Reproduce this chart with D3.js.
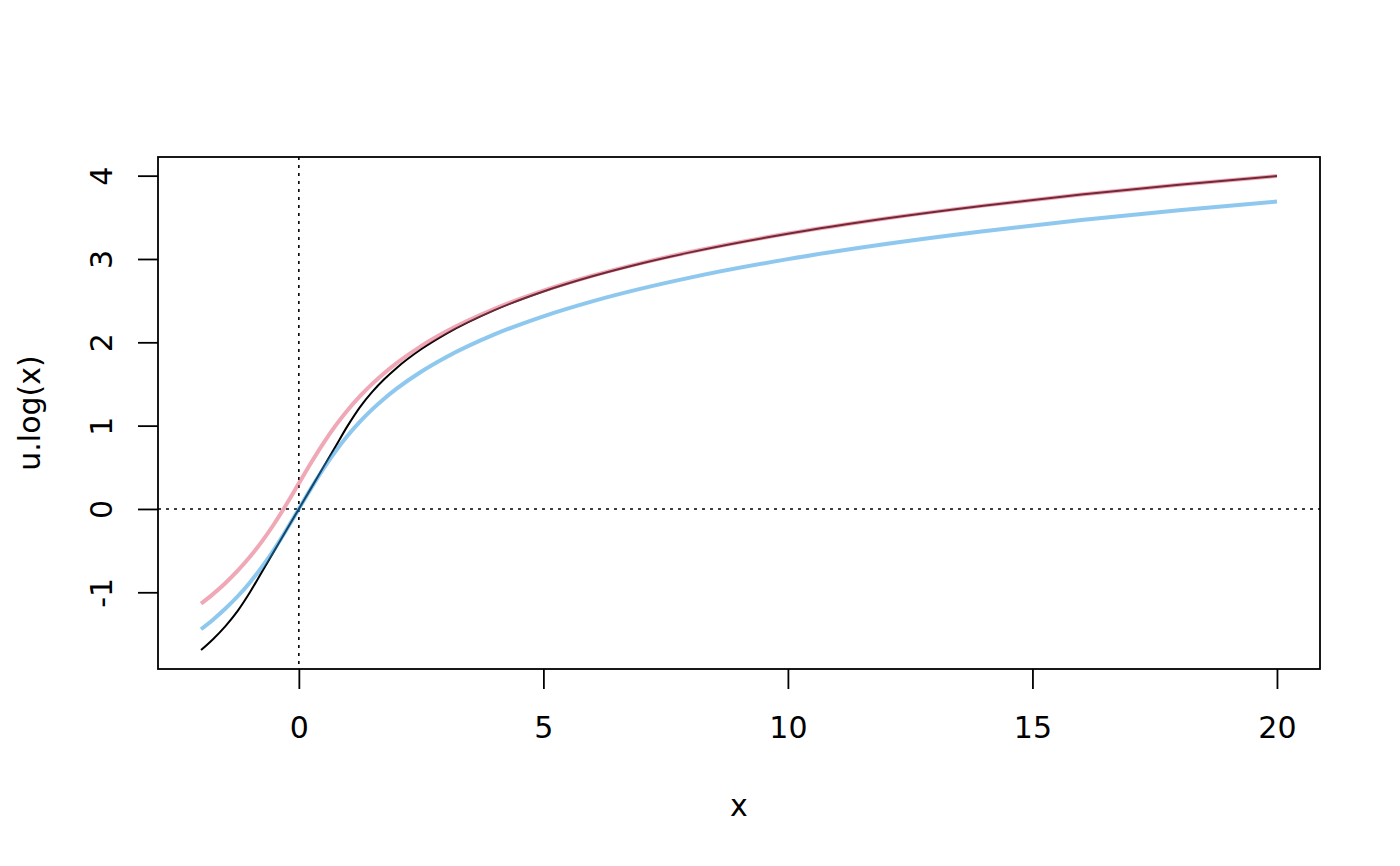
<!DOCTYPE html>
<html>
<head>
<meta charset="utf-8">
<script src="https://cdn.jsdelivr.net/npm/d3@7/dist/d3.min.js"></script>
<style>
  body { margin: 0; background: #fff; }
  svg text { font-family: "DejaVu Sans", sans-serif; fill: #000; }
</style>
</head>
<body>
<script>
// values
var xs      = [-2, -1.75, -1.5, -1.25, -1, -0.75, -0.5, -0.25, 0, 0.25, 0.5, 0.75, 1, 1.25, 1.5, 1.75, 2, 2.5, 3, 4, 5, 6, 7, 8, 10, 12, 14, 16, 18, 20];
var ulog    = [-1.6931, -1.5596, -1.4055, -1.2231, -1, -0.75, -0.5, -0.25, 0, 0.25, 0.5, 0.75, 1, 1.2231, 1.4055, 1.5596, 1.6931, 1.9163, 2.0986, 2.3863, 2.6094, 2.7918, 2.9459, 3.0794, 3.3026, 3.4849, 3.6391, 3.7726, 3.8904, 3.9957];
var pinkVal = [-1.1367, -1.0190, -0.8879, -0.7407, -0.5745, -0.3862, -0.1743, 0.0594, 0.3069, 0.5544, 0.7881, 1.0000, 1.1883, 1.3545, 1.5017, 1.6328, 1.7505, 1.9541, 2.1253, 2.4016, 2.6193, 2.7987, 2.9510, 3.0834, 3.3051, 3.4867, 3.6404, 3.7736, 3.8912, 3.9964];
var blueVal = [-1.4436, -1.3259, -1.1948, -1.0476, -0.8814, -0.6931, -0.4812, -0.2475, 0, 0.2475, 0.4812, 0.6931, 0.8814, 1.0476, 1.1948, 1.3259, 1.4436, 1.6472, 1.8184, 2.0947, 2.3124, 2.4918, 2.6441, 2.7765, 2.9982, 3.1798, 3.3335, 3.4667, 3.5843, 3.6895];
var xTicks = [0, 5, 10, 15, 20];
var yTicks = [-1, 0, 1, 2, 3, 4];

var W = 1400, H = 866;
var plotL = 158, plotR = 1320, plotT = 157, plotB = 669;
var fontSize = "30px";

var svg = d3.select("body").append("svg")
    .attr("width", W)
    .attr("height", H);

// R style: 4% padding around the data range
function padded(ext) {
    var r = ext[1] - ext[0];
    return [ext[0] - 0.04 * r, ext[1] + 0.04 * r];
}
var allY = ulog.concat(pinkVal, blueVal);
var xScale = d3.scaleLinear().domain(padded(d3.extent(xs))).range([plotL, plotR]);
var yScale = d3.scaleLinear().domain(padded(d3.extent(allY))).range([plotB, plotT]);

function series(vals) {
    return xs.map(function(x, i) { return [x, vals[i]]; });
}
var line = d3.line()
    .x(function(d) { return xScale(d[0]); })
    .y(function(d) { return yScale(d[1]); })
    .curve(d3.curveMonotoneX);

// dotted reference lines at 0
svg.append("line")
    .attr("x1", plotL).attr("x2", plotR)
    .attr("y1", yScale(0)).attr("y2", yScale(0))
    .attr("stroke", "#000").attr("stroke-width", 1.6)
    .attr("stroke-dasharray", "3,5");
svg.append("line")
    .attr("x1", xScale(0)).attr("x2", xScale(0))
    .attr("y1", plotT).attr("y2", plotB)
    .attr("stroke", "#000").attr("stroke-width", 1.6)
    .attr("stroke-dasharray", "3,5");

// curves
svg.append("path").datum(series(ulog))
    .attr("d", line)
    .attr("fill", "none")
    .attr("stroke", "#000")
    .attr("stroke-width", 2);
svg.append("path").datum(series(pinkVal))
    .attr("d", line)
    .attr("fill", "none")
    .attr("stroke", "rgb(226,80,110)")
    .attr("stroke-opacity", 0.5)
    .attr("stroke-width", 4);
svg.append("path").datum(series(blueVal))
    .attr("d", line)
    .attr("fill", "none")
    .attr("stroke", "rgb(29,145,221)")
    .attr("stroke-opacity", 0.5)
    .attr("stroke-width", 4);

// box
svg.append("rect")
    .attr("x", plotL).attr("y", plotT)
    .attr("width", plotR - plotL).attr("height", plotB - plotT)
    .attr("fill", "none")
    .attr("stroke", "#000")
    .attr("stroke-width", 1.8);

// x axis
var gx = svg.append("g")
    .attr("transform", "translate(0," + plotB + ")")
    .call(d3.axisBottom(xScale).tickValues(xTicks).tickSize(20).tickFormat(""));
gx.select(".domain").remove();
gx.selectAll(".tick line").attr("stroke-width", 1.8);
gx.selectAll(".tick").append("text")
    .attr("y", 69)
    .attr("text-anchor", "middle")
    .style("font-size", fontSize)
    .text(function(d) { return d; });

// y axis
var gy = svg.append("g")
    .attr("transform", "translate(" + plotL + ",0)")
    .call(d3.axisLeft(yScale).tickValues(yTicks).tickSize(20).tickFormat(""));
gy.select(".domain").remove();
gy.selectAll(".tick line").attr("stroke-width", 1.8);
gy.selectAll(".tick").append("text")
    .attr("transform", "translate(-46,0) rotate(-90)")
    .attr("text-anchor", "middle")
    .style("font-size", fontSize)
    .text(function(d) { return d; });

// axis titles
svg.append("text")
    .attr("x", (plotL + plotR) / 2)
    .attr("y", 816)
    .attr("text-anchor", "middle")
    .style("font-size", fontSize)
    .text("x");
svg.append("text")
    .attr("transform", "translate(40," + (plotT + plotB) / 2 + ") rotate(-90)")
    .attr("text-anchor", "middle")
    .style("font-size", fontSize)
    .text("u.log(x)");
</script>
</body>
</html>
